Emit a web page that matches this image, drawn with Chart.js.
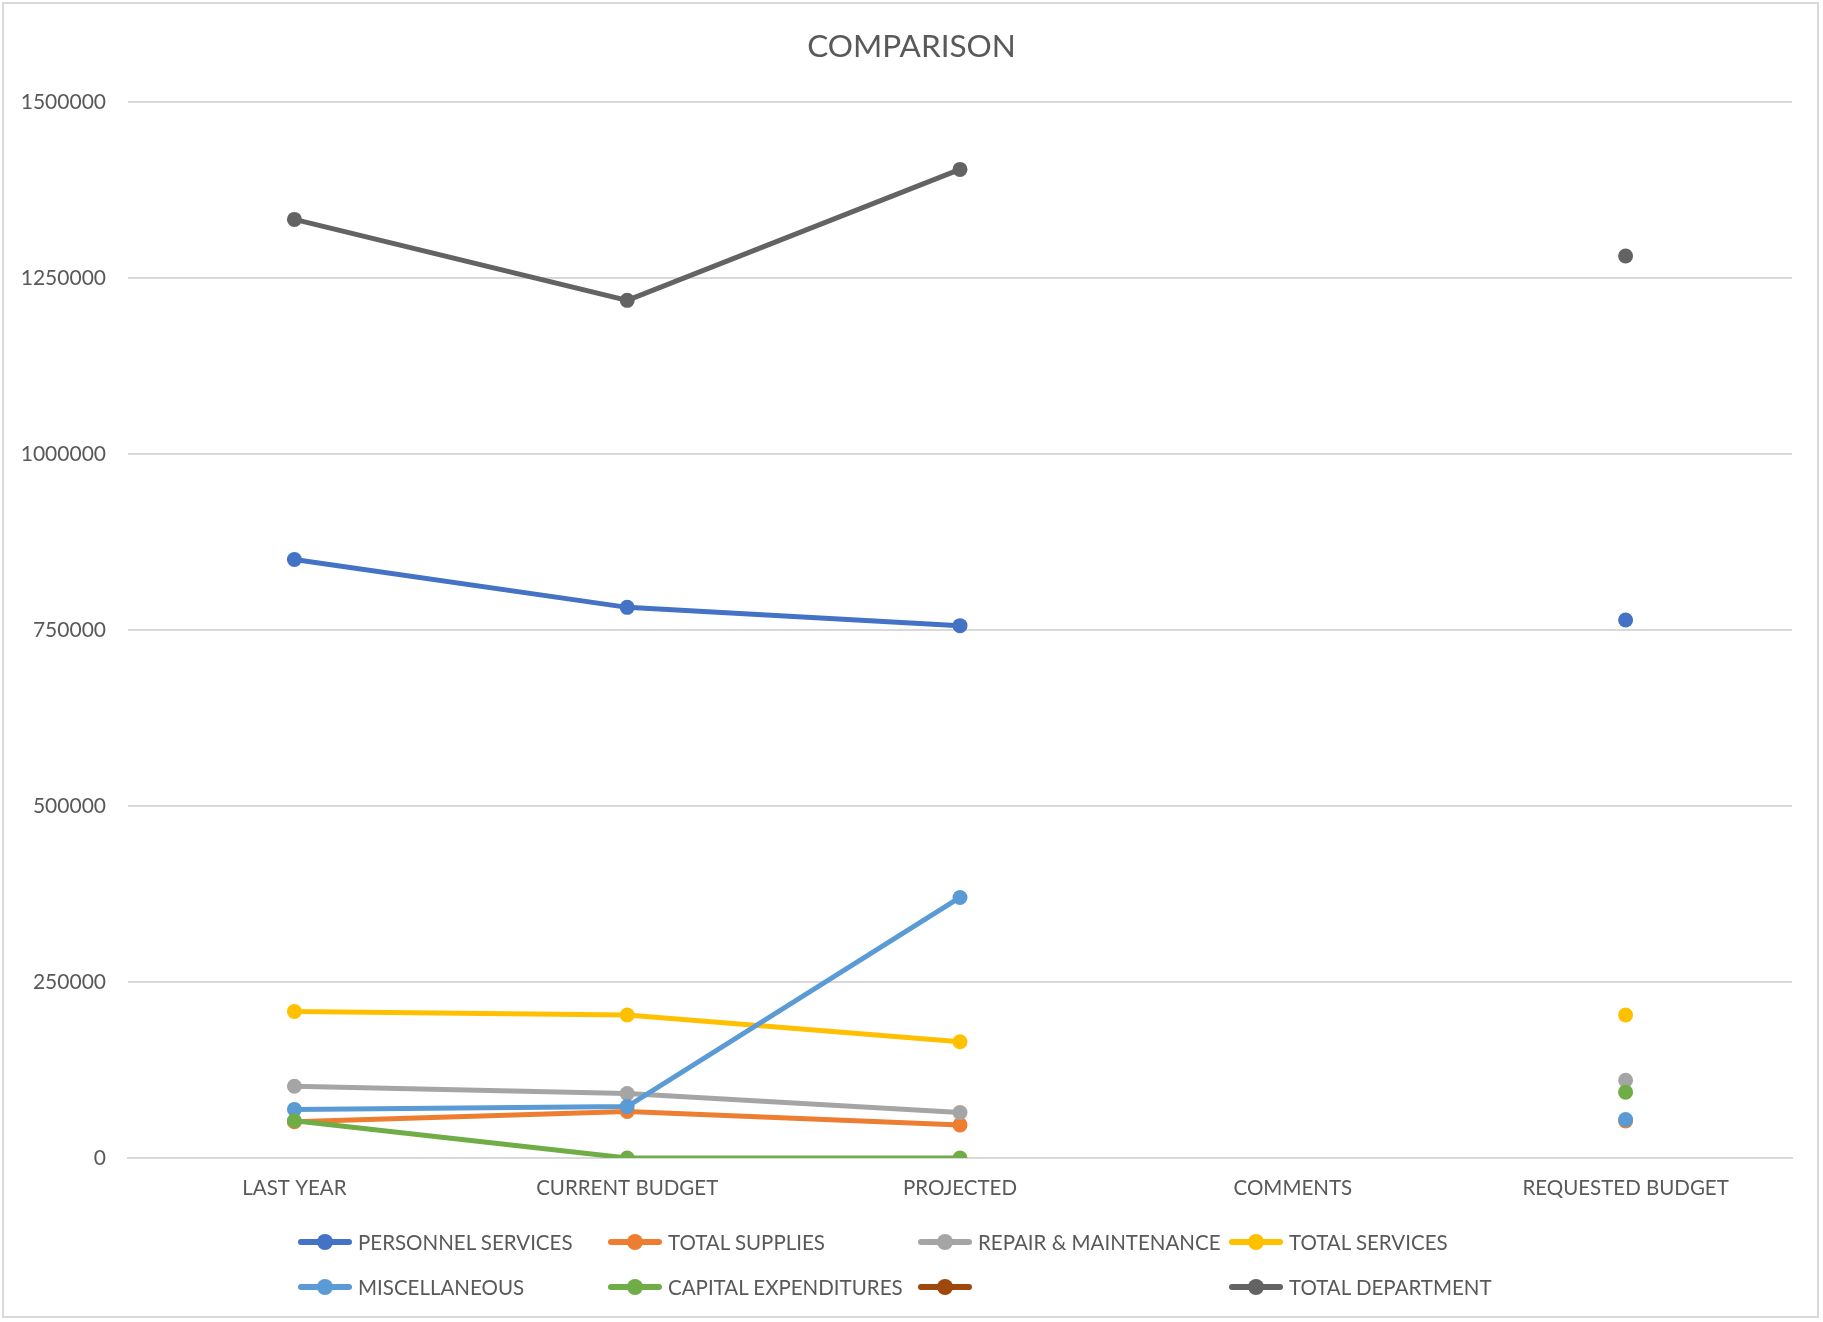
<!DOCTYPE html>
<html>
<head>
<meta charset="utf-8">
<script src="https://cdn.jsdelivr.net/npm/chart.js@4/dist/chart.umd.min.js"></script>
<style>
  html, body { margin: 0; padding: 0; background: #ffffff; }
  #wrap { position: relative; width: 1823px; height: 1322px; overflow: hidden; }
  #frame { position: absolute; left: 2px; top: 2px; width: 1817px; height: 1316px; border: 2px solid #d9d9d9; box-sizing: border-box; pointer-events: none; }
  canvas { position: absolute; left: 0; top: 0; }
  .lg { position: absolute; height: 30px; display: flex; align-items: center; font-family: Lato, "Open Sans", sans-serif; font-size: 20.5px; color: #595959; white-space: nowrap; }
  .mk { position: relative; width: 54px; height: 30px; margin-right: 6px; }
  .mk .ln { position: absolute; left: 0; right: 0; top: 12px; height: 6px; border-radius: 3px; }
  .mk .dt { position: absolute; left: 19px; top: 7px; width: 16px; height: 16px; border-radius: 50%; }
</style>
</head>
<body>
<div id="wrap">
  <canvas id="c" width="1823" height="1322"></canvas>
  <div id="legend"></div>
  <div id="frame"></div>
</div>
<script>
const categories = ["LAST YEAR", "CURRENT BUDGET", "PROJECTED", "COMMENTS", "REQUESTED BUDGET"];
const seriesNames = ["PERSONNEL SERVICES", "TOTAL SUPPLIES", "REPAIR & MAINTENANCE", "TOTAL SERVICES", "MISCELLANEOUS", "CAPITAL EXPENDITURES", "", "TOTAL DEPARTMENT"];
const seriesColors = ["#4472C4", "#ED7D31", "#A5A5A5", "#FFC000", "#5B9BD5", "#70AD47", "#9E480E", "#636363"];

const personnelServices   = [850000, 782000, 756000, null, 764000];
const totalSupplies       = [51500, 66000, 47000, null, 52500];
const repairMaintenance   = [102000, 91500, 64500, null, 110500];
const totalServices       = [208000, 203000, 165000, null, 203000];
const miscellaneous       = [69000, 73000, 370000, null, 54500];
const capitalExpenditures = [53000, 0, 0, null, 93500];
const unnamedSeries       = [null, null, null, null, null];
const totalDepartment     = [1333000, 1218000, 1404000, null, 1281000];

const yTicks = [0, 250000, 500000, 750000, 1000000, 1250000, 1500000];

const seriesData = [personnelServices, totalSupplies, repairMaintenance, totalServices, miscellaneous, capitalExpenditures, unnamedSeries, totalDepartment];

const FONT = "Lato, 'Open Sans', sans-serif";
const N = seriesData.length;

const datasets = seriesData.map((d, i) => ({
  label: seriesNames[i],
  data: d,
  yAxisID: 'y',
  borderColor: seriesColors[i],
  backgroundColor: seriesColors[i],
  pointBackgroundColor: seriesColors[i],
  pointBorderColor: seriesColors[i],
  borderWidth: 5,
  pointRadius: 7.5,
  pointHoverRadius: 7.5,
  pointBorderWidth: 0,
  tension: 0,
  spanGaps: false,
  order: N - i
}));

new Chart(document.getElementById('c'), {
  type: 'line',
  data: { labels: categories, datasets },
  options: {
    responsive: false,
    animation: false,
    events: [],
    layout: { padding: { left: 0, right: 0, top: 0, bottom: 94 } },
    plugins: {
      legend: { display: false },
      tooltip: { enabled: false },
      title: {
        display: true,
        text: "COMPARISON",
        color: "#595959",
        font: { family: FONT, size: 31.5, weight: 'normal' },
        padding: { top: 28, bottom: 36 }
      }
    },
    scales: {
      x: {
        offset: true,
        grid: { display: false, drawTicks: false },
        border: { display: true, color: "#d9d9d9", width: 2 },
        ticks: { color: "#595959", font: { family: FONT, size: 20.5 }, padding: 18, maxRotation: 0, autoSkip: false },
        afterFit: s => { s.height = 70; }
      },
      y: {
        min: 0,
        max: 1500000,
        afterBuildTicks: s => { s.ticks = yTicks.map(v => ({ value: v })); },
        grid: { color: "#d9d9d9", lineWidth: 2, drawTicks: false },
        border: { display: false },
        ticks: { color: "#595959", font: { family: FONT, size: 21 }, padding: 22, callback: v => String(v) },
        afterFit: s => { s.width = 128; }
      },
      yRight: {
        position: 'right',
        display: true,
        min: 0,
        max: 1500000,
        grid: { display: false, drawTicks: false },
        border: { display: false },
        ticks: { display: false },
        afterFit: s => { s.width = 31; }
      }
    }
  }
});

// Legend (HTML, Excel-like grid)
const colX = [298, 608, 918, 1229];
const rowY = [1242, 1287];
const legend = document.getElementById('legend');
seriesNames.forEach((name, i) => {
  const el = document.createElement('div');
  el.className = 'lg';
  el.style.left = colX[i % 4] + 'px';
  el.style.top = (rowY[Math.floor(i / 4)] - 15) + 'px';
  el.innerHTML = '<div class="mk"><div class="ln" style="background:' + seriesColors[i] + '"></div><div class="dt" style="background:' + seriesColors[i] + '"></div></div>';
  const t = document.createElement('span');
  t.textContent = name;
  el.appendChild(t);
  legend.appendChild(el);
});
</script>
</body>
</html>
